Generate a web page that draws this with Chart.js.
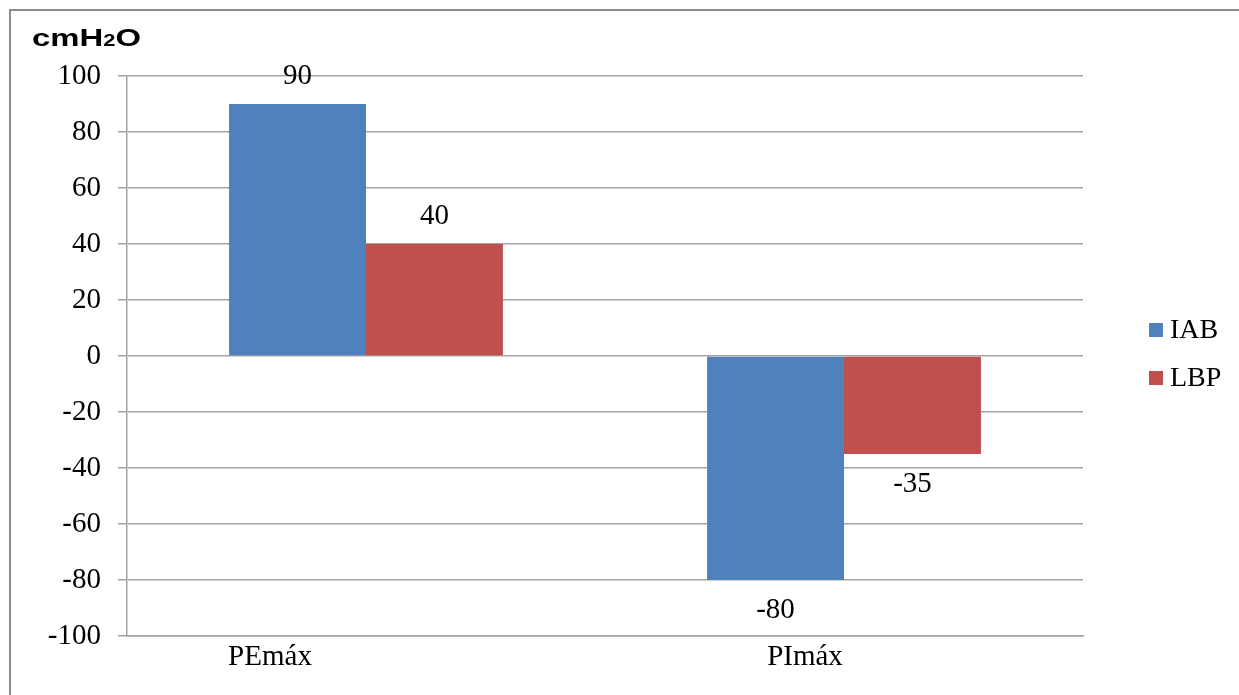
<!DOCTYPE html>
<html>
<head>
<meta charset="utf-8">
<script src="https://cdn.jsdelivr.net/npm/chart.js@4.4.0/dist/chart.umd.min.js"></script>
<style>
  html, body { margin: 0; padding: 0; background: #ffffff; overflow: hidden; }
  canvas { display: block; }
</style>
</head>
<body>
<canvas id="chart" width="1239" height="695"></canvas>
<script>
// Maximal respiratory pressures by group
const categories = ['PEmáx', 'PImáx'];
const seriesNames = ['IAB', 'LBP'];
const iabValues = [90, -80];
const lbpValues = [40, -35];
const yTickValues = [-100, -80, -60, -40, -20, 0, 20, 40, 60, 80, 100];
const unitParts = ['cmH', '2', 'O'];

const BLUE = '#4F81BD';
const RED = '#C0504D';
const GRID = '#a3a3a3';
const SERIF = '"Liberation Serif", "Times New Roman", serif';
const SANS = '"Liberation Sans", Arial, sans-serif';

// horizontal nudge of each category caption relative to its group centre
const captionShift = [-96, -39];

const decor = {
  id: 'decor',
  beforeDraw(chart) {
    const ctx = chart.ctx;
    ctx.save();
    ctx.fillStyle = '#ffffff';
    ctx.fillRect(0, 0, chart.width, chart.height);
    // outer frame (top and left edges visible)
    ctx.strokeStyle = '#8c8c8c';
    ctx.lineWidth = 2;
    ctx.beginPath();
    ctx.moveTo(10, chart.height);
    ctx.lineTo(10, 10);
    ctx.lineTo(chart.width, 10);
    ctx.stroke();
    ctx.restore();
  },
  afterDatasetsDraw(chart) {
    const ctx = chart.ctx;
    ctx.save();
    ctx.font = '29px ' + SERIF;
    ctx.fillStyle = '#000000';
    ctx.textAlign = 'center';
    ctx.textBaseline = 'middle';
    chart.data.datasets.forEach((ds, di) => {
      const meta = chart.getDatasetMeta(di);
      meta.data.forEach((bar, i) => {
        const v = ds.data[i];
        const y = v >= 0 ? bar.y - 28 : bar.y + 30;
        ctx.fillText(String(v), bar.x, y);
      });
    });
    ctx.restore();
  },
  afterDraw(chart) {
    const ctx = chart.ctx;
    const area = chart.chartArea;
    const xs = chart.scales.x;
    ctx.save();

    // category captions
    ctx.font = '29px ' + SERIF;
    ctx.fillStyle = '#000000';
    ctx.textAlign = 'center';
    ctx.textBaseline = 'middle';
    categories.forEach((c, i) => {
      ctx.fillText(c, xs.getPixelForValue(i) + captionShift[i], xs.top + 21);
    });

    // legend
    ctx.font = '28px ' + SERIF;
    const lx = area.right + 66;
    const mid = (area.top + area.bottom) / 2;
    chart.data.datasets.forEach((ds, i) => {
      const yc = mid - 26 + i * 48;
      ctx.fillStyle = ds.backgroundColor;
      ctx.fillRect(lx, yc - 7, 14, 14);
      ctx.fillStyle = '#000000';
      ctx.textAlign = 'left';
      ctx.fillText(ds.label, lx + 21, yc + 1);
    });

    // unit caption, cmH2O with a small 2
    ctx.textBaseline = 'alphabetic';
    ctx.textAlign = 'left';
    const big = 'bold 24px ' + SANS;
    const small = 'bold 16px ' + SANS;
    const fonts = [big, small, big];
    let w = 0;
    unitParts.forEach((p, i) => { ctx.font = fonts[i]; w += ctx.measureText(p).width; });
    const sx = 109 / w;
    ctx.translate(32, 46);
    ctx.scale(sx, 1);
    let x = 0;
    unitParts.forEach((p, i) => {
      ctx.font = fonts[i];
      ctx.fillText(p, x, 0);
      x += ctx.measureText(p).width;
    });
    ctx.restore();
  }
};

new Chart(document.getElementById('chart'), {
  type: 'bar',
  data: {
    labels: categories,
    datasets: [
      { label: seriesNames[0], data: iabValues, backgroundColor: BLUE },
      { label: seriesNames[1], data: lbpValues, backgroundColor: RED }
    ]
  },
  options: {
    responsive: false,
    animation: false,
    devicePixelRatio: 1,
    layout: { padding: { top: 76, right: 156, left: 0, bottom: 0 } },
    datasets: { bar: { barPercentage: 1, categoryPercentage: 0.573, borderWidth: 0 } },
    plugins: {
      legend: { display: false },
      title: { display: false },
      tooltip: { enabled: false }
    },
    scales: {
      x: {
        offset: true,
        grid: { display: false },
        border: { display: true, color: GRID, width: 1.5 },
        ticks: { display: false },
        afterFit(scale) { scale.height = 59; }
      },
      y: {
        min: -100,
        max: 100,
        afterBuildTicks(scale) { scale.ticks = yTickValues.map(v => ({ value: v })); },
        grid: { color: GRID, lineWidth: 1.5, tickLength: 9, drawTicks: true },
        border: { display: true, color: GRID, width: 1.5 },
        ticks: {
          padding: 17,
          color: '#000000',
          font: { family: SERIF, size: 29 }
        },
        afterFit(scale) { scale.width = 127; }
      }
    }
  },
  plugins: [decor]
});
</script>
</body>
</html>
